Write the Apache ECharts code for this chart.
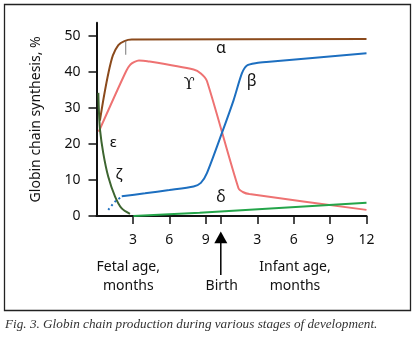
<!DOCTYPE html>
<html><head><meta charset="utf-8">
<script src="https://cdn.jsdelivr.net/npm/echarts@6/dist/echarts.min.js"></script>
<style>html,body{margin:0;padding:0;background:#fff}#c{width:416px;height:337px}</style>
</head><body><div id="c"></div>
<script>
// x values: months since conception; birth at ~10.25 months
const birth = 10.25;
const fetalTicks = [3, 6, 9];
const infantTicks = [3, 6, 9, 12];
const yTicks = [0, 10, 20, 30, 40, 50];

const alpha = [[0.28,26.5],[0.6,33],[1.0,40],[1.35,44.6],[1.8,47.5],[2.3,48.6],[2.9,49.0],[22.25,49.2]];
const epsilon = [[0.15,34.2],[0.2,29],[0.29,23.9],[0.56,17.4],[0.97,10.9],[1.53,5.4],[2.08,2.1],[2.76,0.6]];
const zeta = [[0.97,1.7],[1.5,3.9],[2.08,5.4]];
const beta = [[2.08,5.5],[4,6.3],[6,7.2],[8.0,8.2],[8.6,9.2],[9.1,11.9],[10.33,23],[11.3,32.2],[11.98,39.6],[12.4,41.8],[13.2,42.5],[14.0,42.8],[22.25,45.2]];
const gamma = [[0.18,23.4],[2.35,39.6],[2.8,42.1],[3.5,43.2],[4.2,43],[8.0,40.7],[8.6,39.6],[9.1,37.5],[11.7,7.7],[12.1,6.6],[12.6,6.1],[22.25,1.7]];
const delta = [[3.04,0],[8.5,0.9],[22.25,3.7]];
const mark = [[2.41,48.6],[2.41,44.8]];

const tickVals = fetalTicks.concat([birth], infantTicks.map(m => birth + m));
const labelVals = fetalTicks.concat(infantTicks.map(m => birth + m));

const FONT = '"Noto Sans", "Open Sans", sans-serif';
const chart = echarts.init(document.getElementById('c'), null, {renderer: 'canvas'});

function line(data, color, extra) {
  return Object.assign({
    type: 'line', data: data, showSymbol: false, symbol: 'none', smooth: 0.25,
    lineStyle: {color: color, width: 2}, silent: true, animation: false, z: 3
  }, extra || {});
}

function txt(t, x, y, size, opts, font) {
  return Object.assign({
    type: 'text', x: x, y: y, silent: true,
    style: {text: t, fill: '#111', font: size + 'px ' + (font || FONT), align: 'center', verticalAlign: 'middle'}
  }, opts || {});
}

chart.setOption({
  animation: false,
  grid: {left: 96.5, right: 49.5, top: 22.7, bottom: 121},
  xAxis: {
    type: 'value', min: 0, max: birth + 12,
    splitLine: {show: false},
    axisLine: {lineStyle: {color: '#111', width: 2}},
    axisTick: {show: true, customValues: tickVals, length: 8, lineStyle: {color: '#111', width: 1.5}},
    axisLabel: {customValues: labelVals, margin: 17, fontSize: 14, color: '#111', fontFamily: FONT,
      formatter: v => v > birth ? String(Math.round(v - birth)) : String(Math.round(v))}
  },
  yAxis: {
    type: 'value', min: 0, max: 53.7,
    splitLine: {show: false},
    axisLine: {show: true, lineStyle: {color: '#111', width: 2}},
    axisTick: {show: true, customValues: yTicks, length: 8, lineStyle: {color: '#111', width: 1.5}},
    axisLabel: {customValues: yTicks, margin: 16, fontSize: 14, color: '#111', fontFamily: FONT},
    name: 'Globin chain synthesis, %', nameLocation: 'middle', nameRotate: 90, nameGap: 53,
    nameTextStyle: {fontSize: 14, color: '#111', fontFamily: FONT}
  },
  series: [
    line(alpha, '#8b4a1c'),
    line(gamma, '#ee7272'),
    line(beta, '#1d6fc0'),
    line(epsilon, '#3d6530'),
    line(zeta, '#1d6fc0', {lineStyle: {color: '#1d6fc0', width: 2, type: [2, 3]}}),
    line(delta, '#24a54a', {smooth: false}),
    line(mark, '#777', {smooth: false, lineStyle: {color: '#777', width: 1}})
  ],
  graphic: [
    {type: 'rect', shape: {x: 4.5, y: 4.5, width: 406, height: 306}, style: {fill: null, stroke: '#222', lineWidth: 1.3}, silent: true},
    txt('α', 221, 48, 16),
    txt('ϒ', 189.3, 85, 16, null, '"DejaVu Serif", serif'),
    txt('β', 251.7, 81, 16),
    txt('ε', 113.3, 142.7, 15),
    txt('ζ', 119, 175, 15),
    txt('δ', 221, 197.3, 16),
    {type: 'polygon', shape: {points: [[220.8, 231.5], [214.3, 243.3], [227.3, 243.3]]}, style: {fill: '#000'}, silent: true},
    {type: 'line', shape: {x1: 220.8, y1: 243, x2: 220.8, y2: 275}, style: {stroke: '#000', lineWidth: 1.5}, silent: true},
    txt('Fetal age,', 128.3, 266.7, 14),
    txt('months', 128.3, 286, 14),
    txt('Birth', 221.7, 286, 14),
    txt('Infant age,', 295, 266.7, 14),
    txt('months', 295, 286, 14),
    {type: 'text', x: 5, y: 325, silent: true,
      style: {text: 'Fig. 3. Globin chain production during various stages of development.', fill: '#333',
        font: 'italic 13.2px "Liberation Serif", "DejaVu Serif", serif', align: 'left', verticalAlign: 'middle'}}
  ]
});
</script>
</body></html>
